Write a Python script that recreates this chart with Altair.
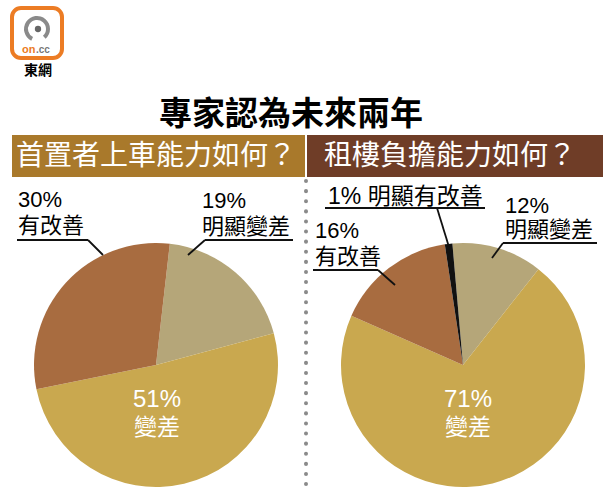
import math
import altair as alt
import pandas as pd

# ---- data ----
left_cats = ["明顯變差", "變差", "有改善"]
left_vals = [19, 51, 30]
right_cats = ["明顯變差", "變差", "有改善", "明顯有改善"]
right_vals = [12, 71, 16, 1]
cat_domain = ["明顯變差", "變差", "有改善", "明顯有改善"]
cat_range = ["#b5a679", "#c9a84f", "#a86c40", "#111111"]

title_text = "專家認為未來兩年"
header_left = "首置者上車能力如何？"
header_right = "租樓負擔能力如何？"

FONT = "Liberation Sans, Noto Sans CJK TC"
CJK = "Noto Sans CJK TC"
ONE = pd.DataFrame({"a": [0]})


def pie(cats, vals, cx, cy, r, offset_deg):
    df = pd.DataFrame({"cat": cats, "val": vals, "ord": list(range(len(cats)))})
    off = math.radians(offset_deg)
    return alt.Chart(df).mark_arc(radius=r).encode(
        theta=alt.Theta("val:Q", stack=True,
                        scale=alt.Scale(range=[off, off + 2 * math.pi])),
        color=alt.Color("cat:N", scale=alt.Scale(domain=cat_domain, range=cat_range),
                        legend=None),
        order=alt.Order("ord:Q"),
        x=alt.value(cx), y=alt.value(cy),
    )


def txt(s, x, y, size=22, color="black", weight="normal", align="left", font=FONT):
    return alt.Chart(pd.DataFrame({"t": [s]})).mark_text(
        align=align, baseline="middle", fontSize=size, fontWeight=weight,
        color=color, font=font,
    ).encode(text="t:N", x=alt.value(x), y=alt.value(y))


def seg(x1, y1, x2, y2, color="#111111", w=1.8):
    return alt.Chart(ONE).mark_rule(color=color, strokeWidth=w).encode(
        x=alt.value(x1), y=alt.value(y1), x2=alt.value(x2), y2=alt.value(y2))


def rect(x1, y1, x2, y2, fill, **kw):
    return alt.Chart(ONE).mark_rect(fill=fill, **kw).encode(
        x=alt.value(x1), y=alt.value(y1), x2=alt.value(x2), y2=alt.value(y2))


layers = []

# logo
layers.append(rect(12, 8, 62, 58, "white", stroke="#ec7c24", strokeWidth=4, cornerRadius=9))
layers.append(alt.Chart(ONE).mark_arc(color="#8a8a8a").encode(
    theta=alt.value(3.6), theta2=alt.value(8.7), radius=alt.value(13), radius2=alt.value(9),
    x=alt.value(37), y=alt.value(29)))
layers.append(alt.Chart(ONE).mark_point(filled=True, color="#666666", size=40, opacity=1).encode(
    x=alt.value(38), y=alt.value(29)))
layers.append(txt("on", 22, 50, size=11, color="#ec7c24", weight="bold", font="Liberation Sans"))
layers.append(txt(".cc", 36, 50, size=10, color="#777777", weight="bold", font="Liberation Sans"))
layers.append(txt("東網", 38, 71, size=14, color="black", weight="bold", align="center", font=CJK))

# title and headers
layers.append(txt(title_text, 291, 115, size=33, weight="bold", align="center", font=CJK))
layers.append(rect(12, 135, 305, 177, "#a9792b"))
layers.append(rect(307, 135, 603, 177, "#6f3d27"))
layers.append(txt(header_left, 16, 157, size=28, color="white", font=CJK))
layers.append(txt(header_right, 324, 157, size=28, color="white", font=CJK))

# divider
layers.append(alt.Chart(ONE).mark_rule(color="#8a8a8a", strokeWidth=4, strokeDash=[0.1, 10],
                                       strokeCap="round").encode(
    x=alt.value(306), y=alt.value(181), y2=alt.value(488)))

# pies
layers.append(pie(left_cats, left_vals, 156, 365, 122, 6.5))
layers.append(pie(right_cats, right_vals, 463, 365, 122, -5))

# left labels
layers.append(txt(f"{left_vals[2]}%", 18, 200))
layers.append(txt(left_cats[2], 18, 226))
layers.append(seg(17, 240, 88, 240))
layers.append(seg(88, 240, 103, 255))
layers.append(txt(f"{left_vals[0]}%", 202, 201))
layers.append(txt(left_cats[0], 202, 227))
layers.append(seg(205, 240, 293, 240))
layers.append(seg(205, 240, 188, 255))
layers.append(txt(f"{left_vals[1]}%", 157, 400, size=24, color="white", align="center"))
layers.append(txt(left_cats[1], 157, 428, size=23, color="white", align="center"))

# right labels
layers.append(txt(f"{right_vals[3]}% {right_cats[3]}", 328, 197, size=23))
layers.append(seg(325, 208, 485, 208))
layers.append(seg(437, 208, 449, 247))
layers.append(txt(f"{right_vals[2]}%", 315, 231))
layers.append(txt(right_cats[2], 315, 257))
layers.append(seg(313, 270, 378, 270))
layers.append(seg(378, 270, 395, 285))
layers.append(txt(f"{right_vals[0]}%", 505, 206))
layers.append(txt(right_cats[0], 505, 230))
layers.append(seg(503, 243, 597, 243))
layers.append(seg(503, 243, 492, 258))
layers.append(txt(f"{right_vals[1]}%", 468, 400, size=24, color="white", align="center"))
layers.append(txt(right_cats[1], 468, 428, size=23, color="white", align="center"))

chart = alt.layer(*layers).resolve_scale(theta="independent").properties(
    width=609, height=504,
    autosize=alt.AutoSizeParams(type="none"),
    padding=0,
    background="white",
).configure_view(stroke=None)

chart.save("out.html", embed_options={"renderer": "svg", "actions": False})
